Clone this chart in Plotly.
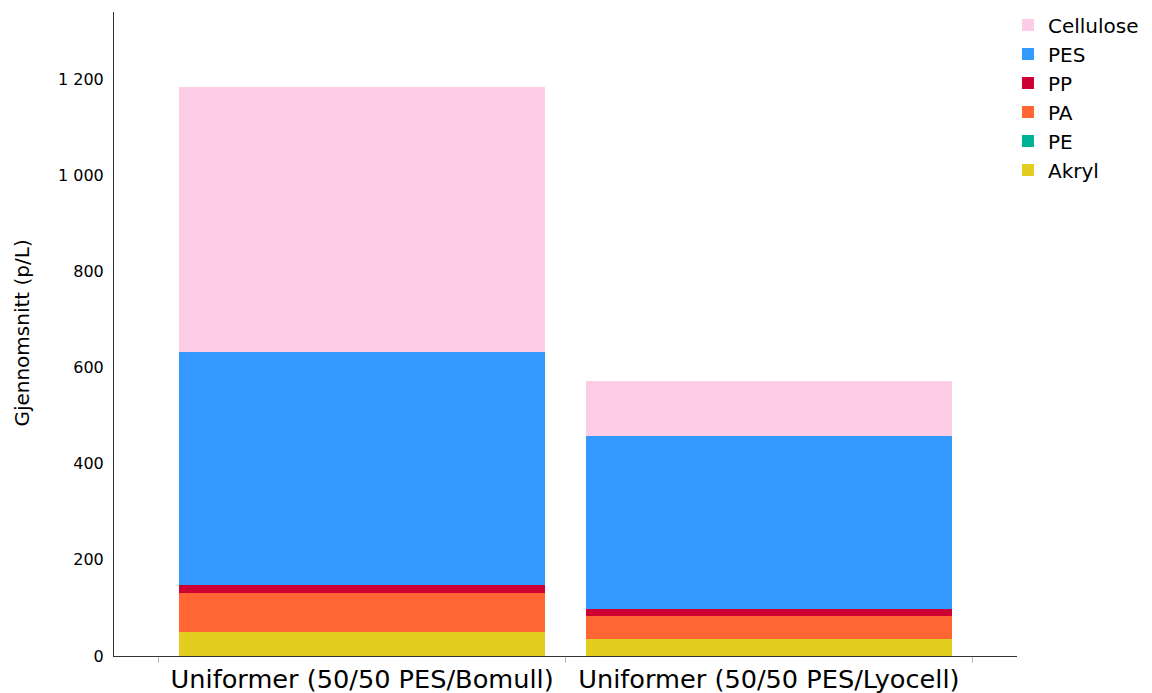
import plotly.graph_objects as go

# Data (average particles per litre)
categories = ["Uniformer (50/50 PES/Bomull)", "Uniformer (50/50 PES/Lyocell)"]
akryl = [50, 35]
pe = [0, 0]
pa = [82, 49]
pp = [15, 14]
pes = [486, 359]
cellulose = [551, 115]

# stacking order bottom -> top
series = [
    ("Akryl", akryl, "#E3CD1E"),
    ("PE", pe, "#00B196"),
    ("PA", pa, "#FF6633"),
    ("PP", pp, "#CC0033"),
    ("PES", pes, "#3399FF"),
    ("Cellulose", cellulose, "#FDCCE6"),
]

fig = go.Figure()
for name, vals, color in series:
    fig.add_trace(
        go.Bar(
            x=categories,
            y=vals,
            name=name,
            marker=dict(color=color, line=dict(width=0)),
        )
    )

# page body adds ~8px margin, so the figure is sized to fit the window
fig.update_layout(
    barmode="stack",
    bargap=0.1,
    width=1144,
    height=685,
    separators=". ",
    font=dict(family="DejaVu Sans", color="#000000"),
    plot_bgcolor="white",
    paper_bgcolor="white",
    margin=dict(l=106, r=135, t=4, b=37, autoexpand=False),
    legend=dict(
        x=0.990,
        xanchor="left",
        y=1.01,
        yanchor="top",
        traceorder="reversed",
        font=dict(size=20, family="DejaVu Sans"),
        tracegroupgap=0,
        itemwidth=30,
    ),
    xaxis=dict(
        range=[-0.61, 1.61],
        showline=True,
        linecolor="#333333",
        linewidth=1,
        ticks="outside",
        tickson="boundaries",
        ticklen=6,
        tickcolor="#BBBBBB",
        tickfont=dict(size=25.6),
        showgrid=False,
        automargin=False,
    ),
    yaxis=dict(
        range=[0, 1340],
        tickvals=[0, 200, 400, 600, 800, 1000, 1200],
        tickformat=",d",
        showline=True,
        linecolor="#333333",
        linewidth=1,
        ticks="",
        showgrid=False,
        zeroline=False,
        tickfont=dict(size=16),
        ticklabelstandoff=6,
        automargin=False,
    ),
    annotations=[
        dict(
            text="Gjennomsnitt (p/L)",
            textangle=-90,
            xref="paper",
            yref="paper",
            x=-0.102,
            y=0.502,
            xanchor="center",
            yanchor="middle",
            showarrow=False,
            font=dict(size=20),
        )
    ],
)

fig.write_html("out.html")
